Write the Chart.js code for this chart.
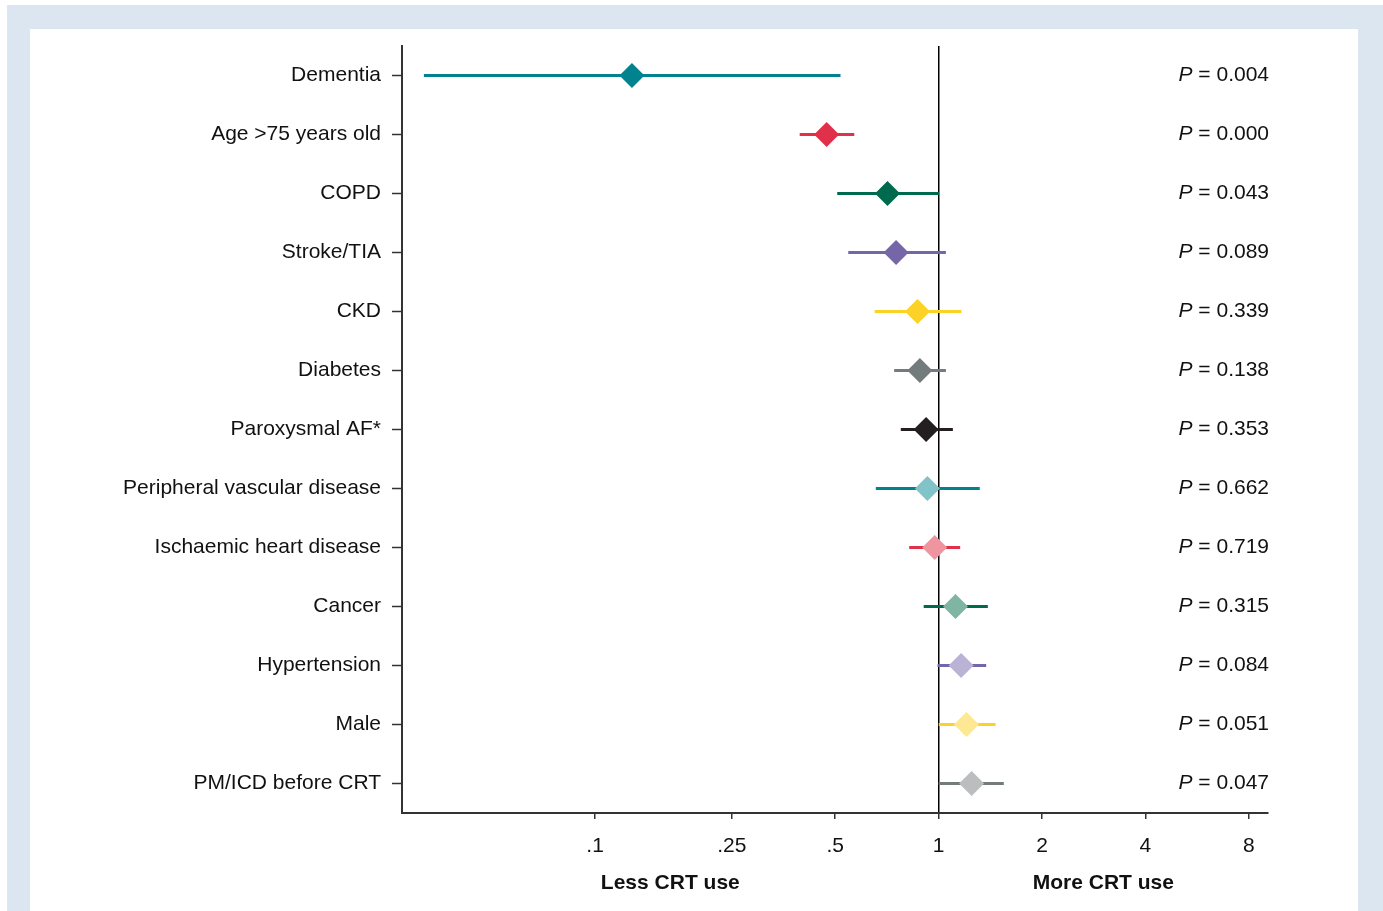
<!DOCTYPE html>
<html>
<head>
<meta charset="utf-8">
<script src="https://cdn.jsdelivr.net/npm/chart.js@4.4.1/dist/chart.umd.min.js"></script>
<style>
  html, body { margin: 0; padding: 0; background: #ffffff; width: 1383px; height: 911px; overflow: hidden; }
  #frame { position: absolute; left: 7px; top: 5px; width: 1376px; height: 906px; background: #dce6f0; }
  #panel { position: absolute; left: 30px; top: 29px; width: 1328px; height: 882px; background: #ffffff; }
  #c { position: absolute; left: 0; top: 0; }
</style>
</head>
<body>
<div id="frame"></div>
<div id="panel"></div>
<canvas id="c" width="1383" height="911"></canvas>
<script>
const categories = ["Dementia", "Age >75 years old", "COPD", "Stroke/TIA", "CKD", "Diabetes",
  "Paroxysmal AF*", "Peripheral vascular disease", "Ischaemic heart disease", "Cancer",
  "Hypertension", "Male", "PM/ICD before CRT"];
const oddsRatio = [0.128, 0.472, 0.710, 0.752, 0.868, 0.882, 0.920, 0.928, 0.974, 1.120, 1.163, 1.205, 1.248];
const ciLower   = [0.0318, 0.395, 0.508, 0.547, 0.653, 0.744, 0.778, 0.658, 0.823, 0.907, 0.995, 1.003, 1.003];
const ciUpper   = [0.517, 0.567, 1.000, 1.048, 1.163, 1.048, 1.098, 1.315, 1.153, 1.388, 1.373, 1.462, 1.545];
const pValues   = ["0.004", "0.000", "0.043", "0.089", "0.339", "0.138", "0.353", "0.662", "0.719", "0.315", "0.084", "0.051", "0.047"];
const lineColors = ["#00838f", "#e0304a", "#006a4e", "#7566a8", "#fdd227", "#747b7d", "#231f20",
  "#00838f", "#e0304a", "#006a4e", "#7566a8", "#fdd227", "#747b7d"];
const markerColors = ["#00838f", "#e0304a", "#006a4e", "#7566a8", "#fdd227", "#747b7d", "#231f20",
  "#80c3c9", "#ef95a0", "#80b4a3", "#bab3d6", "#fee893", "#bcbdbf"];
const xTickValues = [0.1, 0.25, 0.5, 1, 2, 4, 8];
const xTickLabels = [".1", ".25", ".5", "1", "2", "4", "8"];
const sideTitles = ["Less CRT use", "More CRT use"];

const FONT = '"Liberation Sans", Arial, Helvetica, sans-serif';

const annotations = {
  id: 'annotations',
  afterDraw(chart) {
    const ctx = chart.ctx;
    const xs = chart.scales.x, ys = chart.scales.y;
    const area = chart.chartArea;
    ctx.save();
    ctx.fillStyle = '#111111';
    const rightX = area.right + 1;
    categories.forEach((cat, i) => {
      const y = ys.getPixelForValue(i);
      ctx.textBaseline = 'middle';
      ctx.font = '21px ' + FONT;
      const rest = ' = ' + pValues[i];
      const wRest = ctx.measureText(rest).width;
      ctx.textAlign = 'left';
      ctx.fillText(rest, rightX - wRest, y);
      ctx.font = 'italic 21px ' + FONT;
      const wP = ctx.measureText('P').width;
      ctx.fillText('P', rightX - wRest - wP, y);
    });
    const oneX = xs.getPixelForValue(1);
    ctx.font = 'bold 21px ' + FONT;
    ctx.textAlign = 'center';
    ctx.textBaseline = 'middle';
    ctx.fillText(sideTitles[0], (area.left + oneX) / 2, 883);
    ctx.fillText(sideTitles[1], (oneX + area.right) / 2, 883);
    ctx.restore();
  }
};

new Chart(document.getElementById('c'), {
  type: 'bar',
  data: {
    labels: categories,
    datasets: [
      {
        type: 'scatter',
        data: categories.map((c, i) => ({ x: oddsRatio[i], y: c })),
        pointStyle: 'rectRot',
        pointRadius: 12.5,
        pointHoverRadius: 12.5,
        pointBackgroundColor: markerColors,
        pointBorderColor: markerColors,
        pointBorderWidth: 0,
        order: 0
      },
      {
        type: 'bar',
        data: categories.map((c, i) => [ciLower[i], ciUpper[i]]),
        backgroundColor: lineColors,
        borderWidth: 0,
        barThickness: 2.2,
        order: 1
      }
    ]
  },
  options: {
    indexAxis: 'y',
    responsive: false,
    animation: false,
    devicePixelRatio: 1,
    layout: { padding: { left: 0, top: 46, right: 115, bottom: 0 } },
    plugins: { legend: { display: false }, tooltip: { enabled: false } },
    scales: {
      x: {
        type: 'logarithmic',
        position: 'bottom',
        min: 0.0274,
        max: 9.1,
        afterBuildTicks(scale) { scale.ticks = xTickValues.map(v => ({ value: v })); },
        afterFit(scale) { scale.height = 98; },
        ticks: {
          autoSkip: false,
          maxRotation: 0,
          padding: 15,
          color: '#111111',
          font: { family: FONT, size: 21 },
          callback(value) { const k = xTickValues.indexOf(value); return k >= 0 ? xTickLabels[k] : ''; }
        },
        grid: {
          drawTicks: true,
          tickLength: 6,
          tickColor: '#333333',
          tickWidth: 1.5,
          lineWidth: 1.5,
          color: (ctx) => (ctx.tick && ctx.tick.value === 1) ? '#000000' : 'rgba(0,0,0,0)'
        },
        border: { display: true, color: '#333333', width: 2 }
      },
      y: {
        type: 'category',
        position: 'left',
        offset: true,
        afterFit(scale) { scale.width = 402; },
        ticks: {
          padding: 11,
          color: '#111111',
          font: { family: FONT, size: 21 }
        },
        grid: {
          offset: false,
          drawTicks: true,
          tickLength: 10,
          tickColor: '#333333',
          tickWidth: 1.5,
          color: 'rgba(0,0,0,0)'
        },
        border: { display: true, color: '#333333', width: 2 }
      }
    }
  },
  plugins: [annotations]
});
</script>
</body>
</html>
